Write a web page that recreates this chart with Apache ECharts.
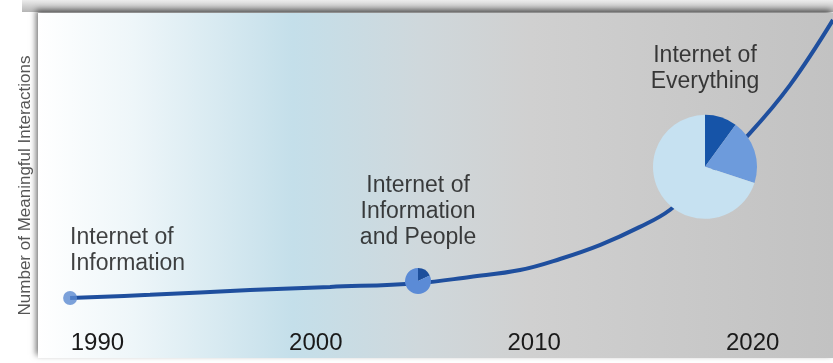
<!DOCTYPE html>
<html>
<head>
<meta charset="utf-8">
<script src="https://cdn.jsdelivr.net/npm/echarts@6/dist/echarts.min.js"></script>
<style>
  html, body { margin: 0; padding: 0; background: #ffffff; }
  #main { width: 833px; height: 363px; }
</style>
</head>
<body>
<div id="main"></div>
<script>
// growth curve (year, relative interactions)
var lineYears = [1988.75, 1992.41, 1996.99, 2000.65, 2004.68, 2007.06, 2009.35, 2011.18, 2013.03, 2014.84, 2016.21, 2017.82, 2019.88, 2021.71, 2023.68];
var lineValues = [17.4, 18.3, 19.7, 20.6, 21.7, 23.5, 25.5, 28.7, 32.8, 38.0, 42.9, 52.2, 65.2, 79.1, 98.0];

// milestones along the curve
var milestoneYears = [1988.75, 2004.68, 2017.82];
var milestoneValues = [17.4, 22.3, 55.4];
var milestoneLabels = ['Internet of\nInformation', 'Internet of\nInformation\nand People', 'Internet of\nEverything'];

// pie shares for the two milestone pies
var smallPieShares = [18, 82];
var bigPieShares = [10, 20, 70];

var yearTicks = [1990, 2000, 2010, 2020];
var yAxisTitle = 'Number of Meaningful Interactions';

var myChart = echarts.init(document.getElementById('main'));

var FONT = '"Liberation Sans", Arial, sans-serif';
var smallPieColors = ['#1d4f9c', '#5b8bd6'];
var bigPieColors = ['#1654a8', '#6d9bdc', '#c6e1f1'];

function BuildLine () {
  var pts = [];
  for (var i = 0; i < lineYears.length; i++) {
    pts.push([lineYears[i], lineValues[i]]);
  }
  return pts;
}

function BuildMilestones () {
  var items = [];
  var cfg = [
    { size: 14, align: 'left', dist: 14 },
    { size: 0, align: 'center', dist: 30 },
    { size: 0, align: 'center', dist: 72 }
  ];
  for (var i = 0; i < milestoneYears.length; i++) {
    items.push({
      value: [milestoneYears[i], milestoneValues[i]],
      symbolSize: cfg[i].size,
      label: {
        show: true,
        position: 'top',
        align: cfg[i].align,
        distance: cfg[i].dist,
        color: '#111111',
        fontFamily: FONT,
        fontSize: 23,
        lineHeight: 26,
        formatter: milestoneLabels[i]
      }
    });
  }
  return items;
}

function BuildSlices (shares, colors) {
  var out = [];
  for (var i = 0; i < shares.length; i++) {
    out.push({ value: shares[i], itemStyle: { color: colors[i] } });
  }
  return out;
}

var option = {
  animation: false,
  grid: {
    show: true,
    left: 38,
    right: 0,
    top: 13,
    bottom: 5,
    borderWidth: 0,
    backgroundColor: new echarts.graphic.LinearGradient(0, 0, 1, 0, [
      { offset: 0, color: '#ffffff' },
      { offset: 0.12, color: '#eef6f9' },
      { offset: 0.32, color: '#c4dfea' },
      { offset: 0.48, color: '#cfd8dc' },
      { offset: 0.62, color: '#d0d0d0' },
      { offset: 1, color: '#c2c2c2' }
    ]),
    shadowColor: 'rgba(0,0,0,0.55)',
    shadowBlur: 6,
    shadowOffsetX: -2,
    shadowOffsetY: -3
  },
  graphic: [
    {
      type: 'rect',
      left: 22,
      top: 0,
      z: -1,
      shape: { width: 811, height: 12 },
      style: {
        fill: new echarts.graphic.LinearGradient(0, 0, 0, 1, [
          { offset: 0, color: '#ececec' },
          { offset: 1, color: '#b4b4b4' }
        ])
      }
    }
  ],
  xAxis: {
    type: 'value',
    min: 1987.28,
    max: 2023.68,
    splitLine: { show: false },
    axisLine: { show: false },
    axisTick: { show: false },
    axisLabel: {
      inside: true,
      margin: 3,
      customValues: yearTicks,
      color: '#1a1a1a',
      fontFamily: FONT,
      fontSize: 24,
      formatter: function (v) { return String(v); }
    }
  },
  yAxis: {
    type: 'value',
    min: 0,
    max: 100,
    splitLine: { show: false },
    axisLine: { show: false },
    axisTick: { show: false },
    axisLabel: { show: false },
    name: yAxisTitle,
    nameLocation: 'middle',
    nameRotate: 90,
    nameGap: 4,
    nameTextStyle: { color: '#555555', fontSize: 17, fontFamily: FONT }
  },
  series: [
    {
      id: 'curve',
      type: 'line',
      smooth: 0.4,
      showSymbol: false,
      data: BuildLine(),
      lineStyle: { color: '#1f4f9e', width: 4 },
      z: 2
    },
    {
      id: 'milestones',
      type: 'scatter',
      data: BuildMilestones(),
      itemStyle: { color: '#5b89d1' },
      z: 6
    }
  ]
};

myChart.setOption(option);

//定位两个饼图
function PlacePies () {
  var small = myChart.convertToPixel({ gridIndex: 0 }, [milestoneYears[1], milestoneValues[1]]);
  var big = myChart.convertToPixel({ gridIndex: 0 }, [milestoneYears[2], milestoneValues[2]]);
  myChart.setOption({
    series: [
      {
        id: 'smallPie',
        type: 'pie',
        center: small,
        radius: 13,
        startAngle: 90,
        silent: true,
        label: { show: false },
        labelLine: { show: false },
        data: BuildSlices(smallPieShares, smallPieColors),
        z: 5
      },
      {
        id: 'bigPie',
        type: 'pie',
        center: big,
        radius: 52,
        startAngle: 90,
        silent: true,
        label: { show: false },
        labelLine: { show: false },
        data: BuildSlices(bigPieShares, bigPieColors),
        z: 5
      }
    ]
  });
}
PlacePies();
</script>
</body>
</html>
